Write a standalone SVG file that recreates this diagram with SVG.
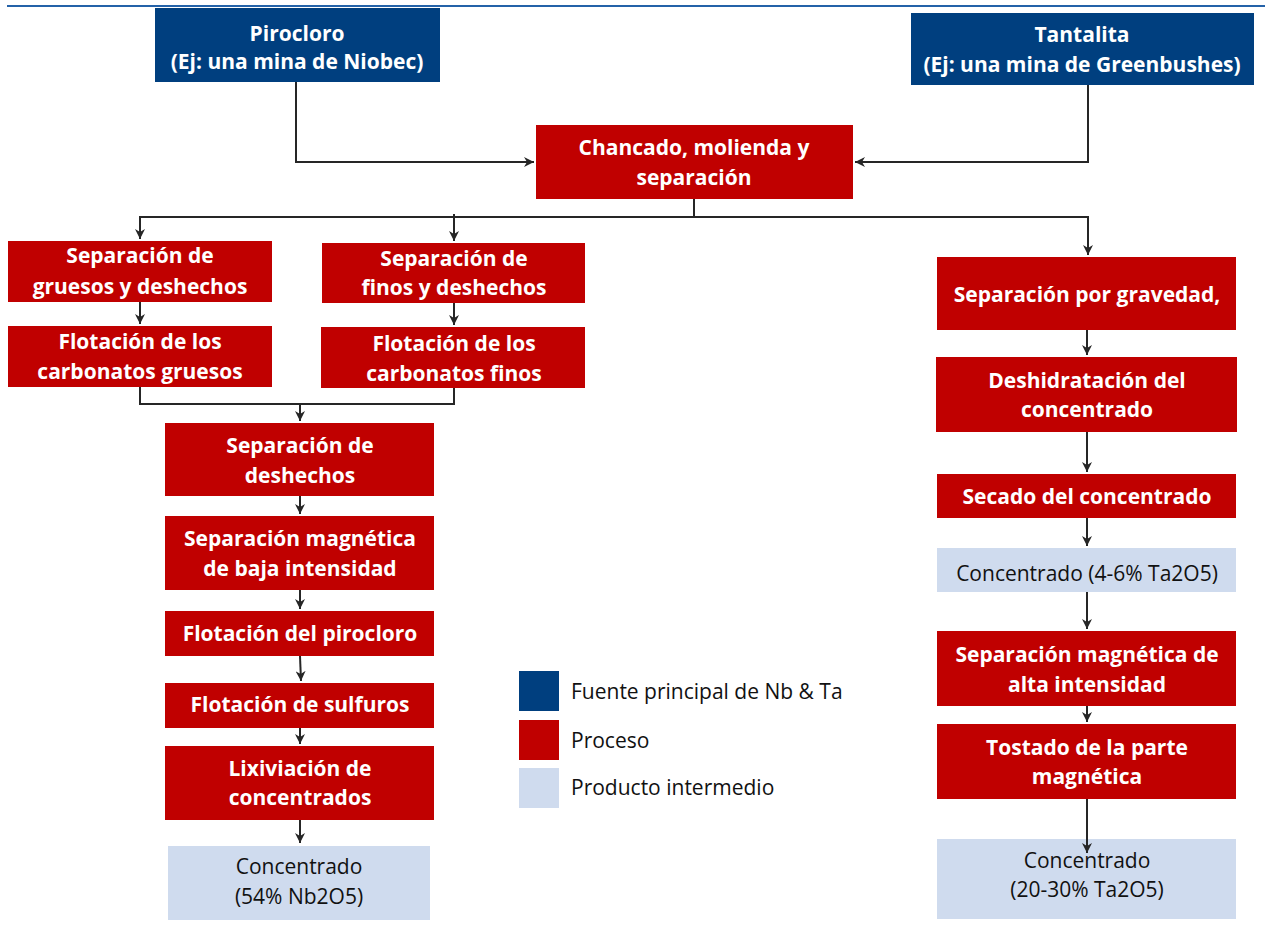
<svg xmlns="http://www.w3.org/2000/svg" width="1265" height="931" viewBox="0 0 1265 931">
<defs>
<marker id="ah" viewBox="0 0 10 10" refX="10" refY="5" markerWidth="5" markerHeight="5" orient="auto" markerUnits="strokeWidth">
<path d="M0,0 L10,5 L0,10 L3,5 Z" fill="#262626"/>
</marker>
<style>
.src{fill:#003f7f}
.proc{fill:#c00000}
.prod{fill:#cfdbee}
.bt{font-family:"Open Sans","Liberation Sans",sans-serif;font-weight:bold;font-size:21px;fill:#fff;text-anchor:middle}
.rt{font-family:"Open Sans","Liberation Sans",sans-serif;font-size:21px;fill:#111;text-anchor:middle}
.lt{font-family:"Open Sans","Liberation Sans",sans-serif;font-size:21px;fill:#111}
.c{fill:none;stroke:#262626;stroke-width:2}
.a{marker-end:url(#ah)}
</style>
</defs>
<rect width="1265" height="931" fill="#fff"/>
<line x1="7" y1="6" x2="1265" y2="6" stroke="#2462a8" stroke-width="2"/>

<g id="connectors">
<polyline class="c a" points="296,82 296,162 534,162"/>
<polyline class="c a" points="1088,85 1088,162 855,162"/>
<polyline class="c" points="694,199 694,217"/>
<polyline class="c" points="140,217 1088,217"/>
<polyline class="c a" points="140,216 140,239"/>
<polyline class="c a" points="454,214 454,241"/>
<polyline class="c a" points="1088,216 1088,255"/>
<polyline class="c a" points="140,302 140,324"/>
<polyline class="c a" points="454,303 454,325"/>
<polyline class="c" points="140,387 140,404 454,404 454,388"/>
<polyline class="c a" points="300,404 300,421"/>
<polyline class="c a" points="300,496 300,514"/>
<polyline class="c a" points="300,590 300,609"/>
<polyline class="c a" points="300,656 301,681"/>
<polyline class="c a" points="300,728 300,744"/>
<polyline class="c a" points="300,820 300,843"/>
<polyline class="c a" points="1087,330 1087,355"/>
<polyline class="c a" points="1087,432 1087,472"/>
<polyline class="c a" points="1087,518 1087,546"/>
<polyline class="c a" points="1087,592 1087,629"/>
<polyline class="c a" points="1087,706 1087,722"/>
</g>

<g id="pirocloro"><rect class="src" x="155" y="8" width="285" height="74"/>
<text class="bt" x="297" y="41">Pirocloro</text><text class="bt" x="297" y="69">(Ej: una mina de Niobec)</text></g>
<g id="tantalita"><rect class="src" x="911" y="13" width="343" height="72"/>
<text class="bt" x="1082" y="42">Tantalita</text><text class="bt" x="1082" y="72">(Ej: una mina de Greenbushes)</text></g>
<g id="chancado"><rect class="proc" x="536" y="125" width="317" height="74"/>
<text class="bt" x="694" y="155">Chancado, molienda y</text><text class="bt" x="694" y="185">separación</text></g>

<g id="sep-gruesos"><rect class="proc" x="8" y="241" width="264" height="61"/>
<text class="bt" x="140" y="263">Separación de</text><text class="bt" x="140" y="294">gruesos y deshechos</text></g>
<g id="flot-gruesos"><rect class="proc" x="8" y="326" width="264" height="61"/>
<text class="bt" x="140" y="349">Flotación de los</text><text class="bt" x="140" y="379">carbonatos gruesos</text></g>
<g id="sep-finos"><rect class="proc" x="322" y="243" width="263" height="60"/>
<text class="bt" x="454" y="266">Separación de</text><text class="bt" x="454" y="295">finos y deshechos</text></g>
<g id="flot-finos"><rect class="proc" x="321" y="327" width="264" height="61"/>
<text class="bt" x="454" y="351">Flotación de los</text><text class="bt" x="454" y="381">carbonatos finos</text></g>

<g id="sep-deshechos"><rect class="proc" x="165" y="423" width="269" height="73"/>
<text class="bt" x="300" y="453">Separación de</text><text class="bt" x="300" y="483">deshechos</text></g>
<g id="sep-mag-baja"><rect class="proc" x="165" y="516" width="269" height="74"/>
<text class="bt" x="300" y="546">Separación magnética</text><text class="bt" x="300" y="576">de baja intensidad</text></g>
<g id="flot-pirocloro"><rect class="proc" x="165" y="611" width="269" height="45"/>
<text class="bt" x="300" y="641">Flotación del pirocloro</text></g>
<g id="flot-sulfuros"><rect class="proc" x="165" y="683" width="269" height="45"/>
<text class="bt" x="300" y="712">Flotación de sulfuros</text></g>
<g id="lixiviacion"><rect class="proc" x="165" y="746" width="269" height="74"/>
<text class="bt" x="300" y="776">Lixiviación de</text><text class="bt" x="300" y="805">concentrados</text></g>
<g id="conc-nb"><rect class="prod" x="168" y="846" width="262" height="74"/>
<text class="rt" x="299" y="874">Concentrado</text><text class="rt" x="299" y="904">(54% Nb2O5)</text></g>

<g id="sep-gravedad"><rect class="proc" x="937" y="257" width="299" height="73"/>
<text class="bt" x="1087" y="302">Separación por gravedad,</text></g>
<g id="deshidratacion"><rect class="proc" x="936" y="357" width="301" height="75"/>
<text class="bt" x="1087" y="388">Deshidratación del</text><text class="bt" x="1087" y="417">concentrado</text></g>
<g id="secado"><rect class="proc" x="937" y="474" width="299" height="44"/>
<text class="bt" x="1087" y="504">Secado del concentrado</text></g>
<g id="conc-ta1"><rect class="prod" x="937" y="548" width="299" height="44"/>
<text class="rt" x="1087" y="581">Concentrado (4-6% Ta2O5)</text></g>
<g id="sep-mag-alta"><rect class="proc" x="937" y="631" width="299" height="75"/>
<text class="bt" x="1087" y="662">Separación magnética de</text><text class="bt" x="1087" y="692">alta intensidad</text></g>
<g id="tostado"><rect class="proc" x="937" y="724" width="299" height="75"/>
<text class="bt" x="1087" y="755">Tostado de la parte</text><text class="bt" x="1087" y="784">magnética</text></g>
<g id="conc-ta2"><rect class="prod" x="937" y="839" width="299" height="80"/>
<text class="rt" x="1087" y="868">Concentrado</text><text class="rt" x="1087" y="897">(20-30% Ta2O5)</text></g>
<polyline class="c a" points="1087,799 1087,853"/>

<g id="legend">
<rect class="src" x="519" y="671" width="40" height="40"/>
<rect class="proc" x="519" y="720" width="40" height="40"/>
<rect class="prod" x="519" y="768" width="40" height="40"/>
<text class="lt" x="571" y="699">Fuente principal de Nb &amp; Ta</text>
<text class="lt" x="571" y="748">Proceso</text>
<text class="lt" x="571" y="795">Producto intermedio</text>
</g>
</svg>
